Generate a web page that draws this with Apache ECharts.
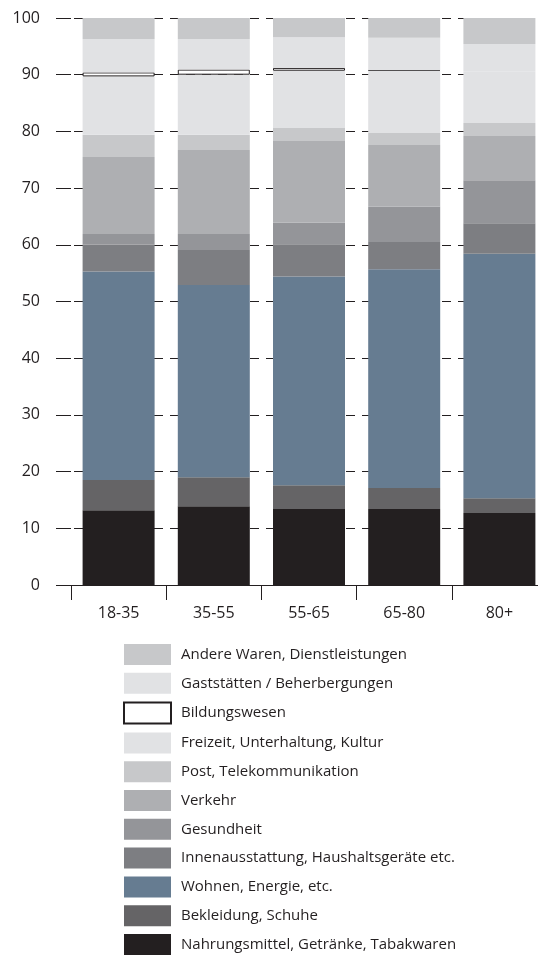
<!DOCTYPE html>
<html>
<head>
<meta charset="utf-8">
<script src="https://cdn.jsdelivr.net/npm/echarts@6/dist/echarts.min.js"></script>
<style>
  html, body { margin: 0; padding: 0; background: #fff; overflow: hidden; }
  /* etwas breiter als das Fenster: die letzte Kategorie läuft rechts aus dem Bild */
  #Konsumausgaben { width: 547px; height: 955px; }
</style>
</head>
<body>
<div id="Konsumausgaben"></div>
<script>
// Anteile der Konsumausgaben in % nach Altersgruppe
var altersgruppen = ['18-35', '35-55', '55-65', '65-80', '80+'];
var yTicks = [0, 10, 20, 30, 40, 50, 60, 70, 80, 90, 100];

var nahrungsmittel   = [13.2, 13.9, 13.4, 13.4, 12.7];
var bekleidung       = [5.3, 5.1, 4.2, 3.7, 2.6];
var wohnen           = [36.8, 33.9, 36.8, 38.6, 43.1];
var innenausstattung = [4.7, 6.2, 5.7, 4.8, 5.4];
var gesundheit       = [1.9, 2.8, 3.8, 6.2, 7.6];
var verkehr          = [13.6, 14.8, 14.4, 10.9, 7.8];
var post             = [3.9, 2.7, 2.3, 2.1, 2.3];
var freizeit         = [10.3, 10.6, 10.1, 11.0, 9.0];
var bildung          = [0.7, 0.9, 0.5, 0.1, '-'];
var gaststaetten     = [5.9, 5.4, 5.4, 5.7, 4.9];
var andere           = [3.7, 3.7, 3.4, 3.5, 4.6];

var namen = [
	'Nahrungsmittel, Getränke, Tabakwaren',
	'Bekleidung, Schuhe',
	'Wohnen, Energie, etc.',
	'Innenausstattung, Haushaltsgeräte etc.',
	'Gesundheit',
	'Verkehr',
	'Post, Telekommunikation',
	'Freizeit, Unterhaltung, Kultur',
	'Bildungswesen',
	'Gaststätten / Beherbergungen',
	'Andere Waren, Dienstleistungen'
];
var werte = [nahrungsmittel, bekleidung, wohnen, innenausstattung, gesundheit,
	verkehr, post, freizeit, bildung, gaststaetten, andere];
var farben = ['#231f20', '#656466', '#667c91', '#7d7e82', '#949599',
	'#aeafb2', '#c7c8ca', '#e1e2e4', '#ffffff', '#e1e2e4', '#c7c8ca'];

var textFarbe = '#231f20';
var schrift = '"Open Sans", "Noto Sans", sans-serif';

var dom = document.getElementById("Konsumausgaben");
var myChart = echarts.init(dom);

var series = [];
for (var i = 0; i < namen.length; i++) {
	var style = { color: farben[i] };
	if (namen[i] == 'Bildungswesen') {
		style.borderColor = '#231f20';
		style.borderWidth = 1;
	}
	series.push({
		name: namen[i],
		type: 'bar',
		stack: 'summe',
		barWidth: 72,
		itemStyle: style,
		emphasis: { disabled: true },
		data: werte[i]
	});
}

var option = {
	animation: false,
	backgroundColor: '#ffffff',
	textStyle: { fontFamily: schrift },
	grid: {
		left: 71,
		right: 0,
		top: 18,
		bottom: 370
	},
	legend: {
		orient: 'vertical',
		left: 123,
		top: 644,
		height: 330,
		padding: 0,
		icon: 'rect',
		itemWidth: 47,
		itemHeight: 21,
		itemGap: 7.8,
		selectedMode: false,
		textStyle: {
			fontFamily: schrift,
			fontSize: 15,
			color: textFarbe,
			padding: [0, 0, 0, 5]
		},
		data: namen.slice().reverse()
	},
	xAxis: {
		type: 'category',
		data: altersgruppen,
		axisLine: { lineStyle: { color: textFarbe, width: 1 } },
		axisTick: { show: true, length: 15, lineStyle: { color: textFarbe } },
		axisLabel: {
			margin: 20,
			fontSize: 16,
			color: textFarbe,
			fontFamily: schrift
		},
		splitLine: { show: false }
	},
	yAxis: {
		type: 'value',
		min: yTicks[0],
		max: yTicks[yTicks.length - 1],
		interval: 10,
		axisLine: { show: false },
		axisTick: { show: true, length: 15, lineStyle: { color: textFarbe } },
		axisLabel: {
			margin: 31,
			fontSize: 16,
			color: textFarbe,
			fontFamily: schrift
		},
		splitLine: {
			show: true,
			lineStyle: { color: textFarbe, width: 1, type: [9, 7], dashOffset: 13 }
		}
	},
	series: series
};

if (option && typeof option === "object") {
	myChart.setOption(option, true);
}
</script>
</body>
</html>
